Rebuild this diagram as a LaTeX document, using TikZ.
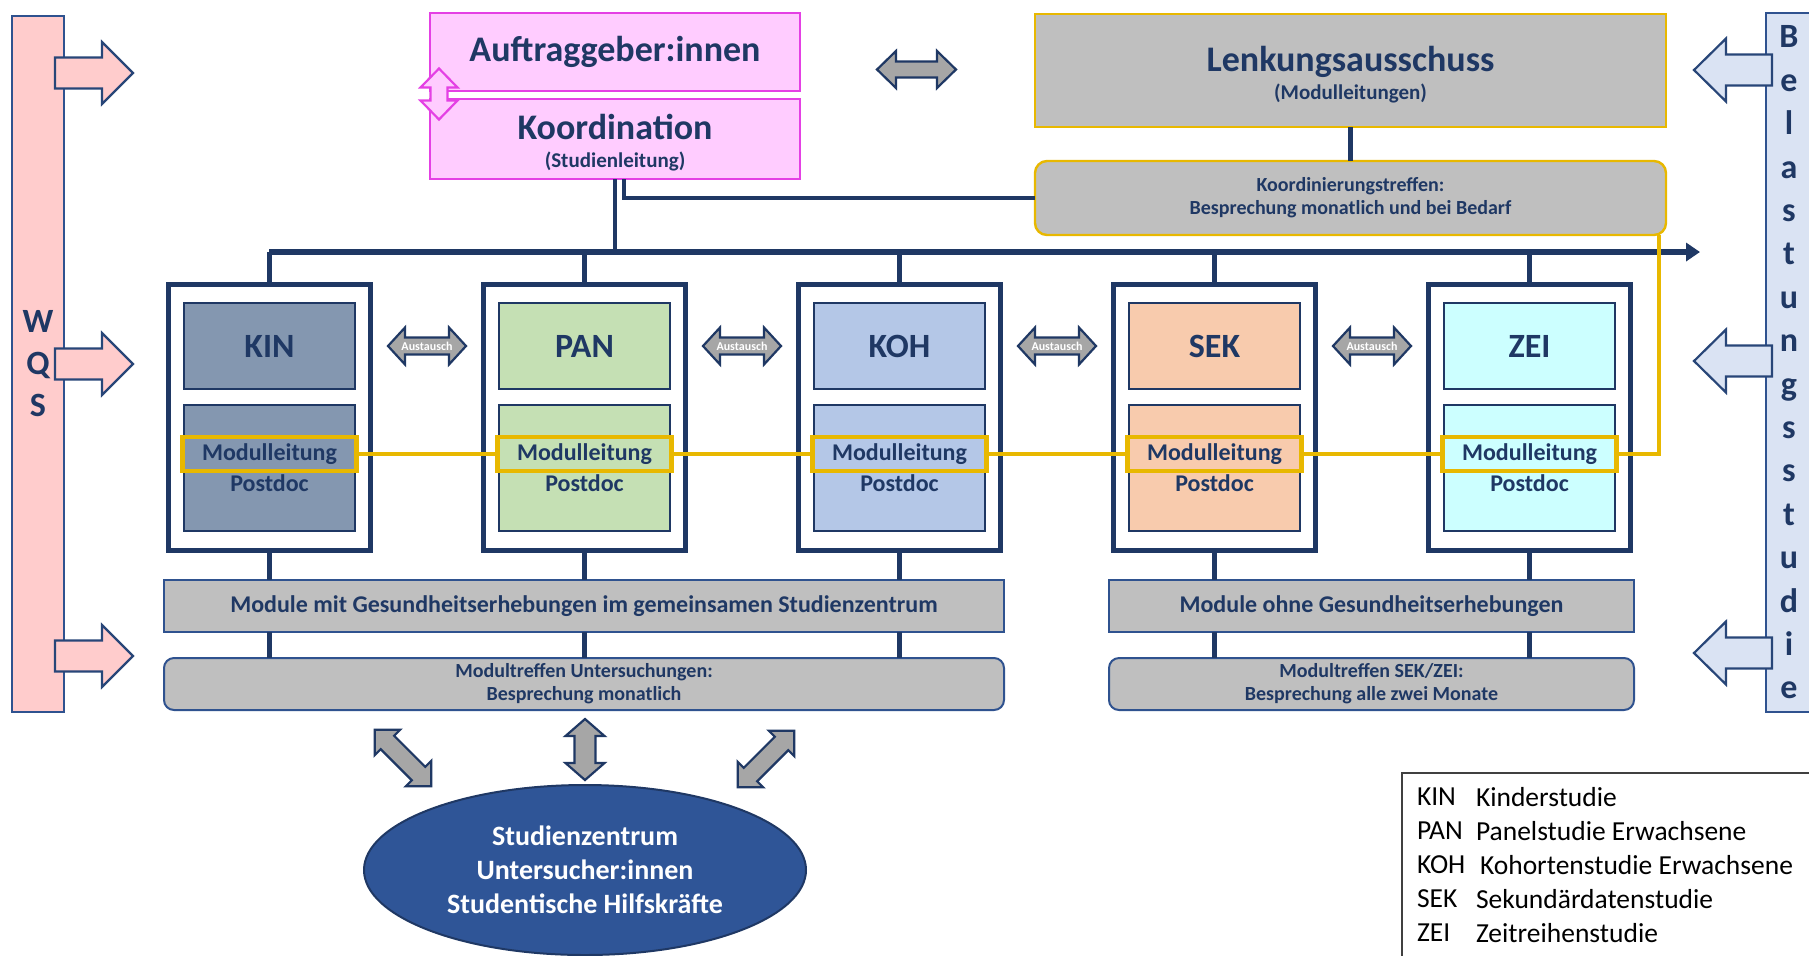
\documentclass[tikz,border=0pt]{standalone}
\usepackage{fontspec}
\setmainfont{Carlito}
\usetikzlibrary{arrows.meta,shapes.geometric}

\definecolor{navy}{RGB}{31,56,100}
\definecolor{steel}{RGB}{47,82,143}
\definecolor{arrowline}{RGB}{40,70,120}
\definecolor{gold}{RGB}{232,184,0}
\definecolor{barpink}{RGB}{255,204,204}
\definecolor{barblue}{RGB}{218,227,243}
\definecolor{lilac}{RGB}{255,204,255}
\definecolor{magentaline}{RGB}{228,64,228}
\definecolor{boxgray}{RGB}{191,191,191}
\definecolor{arrowgray}{RGB}{166,166,166}
\definecolor{kinc}{RGB}{132,151,176}
\definecolor{panc}{RGB}{197,224,180}
\definecolor{kohc}{RGB}{180,199,231}
\definecolor{sekc}{RGB}{248,203,173}
\definecolor{zeic}{RGB}{204,255,255}
\definecolor{centreblue}{RGB}{47,85,151}

\newcommand\fsz[2]{\fontsize{#1}{#2}\selectfont}

\tikzset{
  every node/.style={inner sep=0pt, outer sep=0pt},
  conn/.style={draw=navy, line width=2.4pt},
  goldline/.style={draw=gold, line width=2.4pt},
  sidebar/.style={draw=steel, line width=1pt, minimum width=26pt, align=center,
    text=navy, font=\fsz{17pt}{21pt}\bfseries},
  pinkbox/.style={draw=magentaline, fill=lilac, line width=1.2pt, minimum width=185pt},
  graybox/.style={draw=gold, fill=boxgray, line width=1.2pt, minimum width=315.5pt},
  bigtext/.style={text=navy, font=\fsz{18pt}{22pt}\bfseries},
  subtext/.style={text=navy, font=\fsz{10.5pt}{12pt}\bfseries},
  colframe/.style={draw=navy, fill=white, line width=2.5pt, minimum width=101pt, minimum height=133pt},
  topcell/.style={draw=navy, line width=1.2pt, minimum width=85.75pt, minimum height=43pt,
    text=navy, font=\fsz{17pt}{20pt}\bfseries},
  botcell/.style={draw=navy, line width=1.2pt, minimum width=85.75pt, minimum height=63pt},
  mlbox/.style={draw=gold, line width=2.4pt, minimum width=87pt, minimum height=17pt,
    text=navy, font=\fsz{12pt}{14pt}\bfseries},
  celltext/.style={text=navy, font=\fsz{12pt}{14pt}\bfseries},
  modbar/.style={draw=steel, fill=boxgray, line width=1pt, minimum height=26pt,
    text=navy, font=\fsz{12pt}{14pt}\bfseries},
  meetbox/.style={draw=steel, fill=boxgray, line width=1pt, rounded corners=5pt,
    minimum height=26pt, align=center, text=navy, font=\fsz{10pt}{11.5pt}\bfseries},
  grayarrow/.style={draw=navy, fill=arrowgray, line width=1.1pt},
  pinkarrow/.style={draw=arrowline, fill=barpink, line width=1.1pt},
  bluearrow/.style={draw=arrowline, fill=barblue, line width=1.1pt},
  lilacarrow/.style={draw=magentaline, fill=lilac, line width=1.1pt},
  austext/.style={text=white, font=\fsz{6pt}{7pt}\bfseries},
  legtext/.style={text=black, font=\fsz{13.75pt}{16pt}, anchor=west},
  % double-headed block arrow along x: half length, head length, head half width, shaft half width
  pics/dblarrow/.style n args={4}{code={
    \draw[pic actions] (-#1,0) -- (-#1+#2,-#3) -- (-#1+#2,-#4) -- (#1-#2,-#4) -- (#1-#2,-#3)
      -- (#1,0) -- (#1-#2,#3) -- (#1-#2,#4) -- (-#1+#2,#4) -- (-#1+#2,#3) -- cycle;
  }},
  % single block arrow from the origin along x: length, head length, head half width, shaft half width
  pics/onearrow/.style n args={4}{code={
    \draw[pic actions] (0,-#4) -- (#1-#2,-#4) -- (#1-#2,-#3) -- (#1,0) -- (#1-#2,#3)
      -- (#1-#2,#4) -- (0,#4) -- cycle;
  }},
}

\begin{document}
\begin{tikzpicture}[x=0.5pt,y=-0.5pt]
\useasboundingbox (0,0) rectangle (1809,955);
\fill[white] (0,0) rectangle (1809,955);
\clip (0,0) rectangle (1809,955);

% side bars
\node[sidebar, fill=barpink, minimum height=348pt] (wqs) at (38,364) {W\\Q\\S};
\node[sidebar, fill=barblue, minimum width=23pt, minimum height=349.5pt,
  font=\fsz{17pt}{21.7pt}\bfseries] (belast) at (1789,362.5)
  {B\\e\\l\\a\\s\\t\\u\\n\\g\\s\\s\\t\\u\\d\\i\\e};

\pic[pinkarrow] at (55,73) {onearrow={78}{31}{31}{15.5}};
\pic[pinkarrow] at (55,364) {onearrow={78}{31}{31}{15.5}};
\pic[pinkarrow] at (55,656) {onearrow={78}{31}{31}{15.5}};
\pic[bluearrow, rotate=180] at (1772,70) {onearrow={78}{32}{31.5}{15.5}};
\pic[bluearrow, rotate=180] at (1772,361) {onearrow={78}{32}{31.5}{15.5}};
\pic[bluearrow, rotate=180] at (1772,653) {onearrow={78}{32}{31.5}{15.5}};

% clients and coordination
\node[pinkbox, minimum height=39pt, bigtext] (auftrag) at (615,52) {Auftraggeber:innen};
\node[pinkbox, minimum height=40pt] (koord) at (615,139) {};
\node[bigtext] (koordT) at (615,127) {Koordination};
\node[subtext] (koordS) at (615,161) {(Studienleitung)};
\pic[lilacarrow, rotate=90] at (439,94) {dblarrow={25.5}{19}{18.5}{8.5}};

\pic[grayarrow] at (916.5,69.5) {dblarrow={39.5}{19}{18.5}{8}};

% steering committee
\node[graybox, minimum height=56.5pt] (lenk) at (1350.5,70.5) {};
\node[bigtext] (lenkT) at (1350.5,62) {Lenkungsausschuss};
\node[subtext] (lenkS) at (1350.5,93) {(Modulleitungen)};
\node[graybox, minimum height=37pt, rounded corners=6pt, align=center, text=navy,
  font=\fsz{10pt}{11.5pt}\bfseries] (ktreff) at (1350.5,198)
  {Koordinierungstreffen:\\Besprechung monatlich und bei Bedarf};

\coordinate (railL) at (269,252);
\coordinate (railR) at (1700,252);
\coordinate (kbranch) at (624,179);
\draw[conn] (lenk.south) -- (ktreff.north);
\draw[conn] (koord.south) -- (koord.south |- railL);
\draw[conn] (kbranch) |- (ktreff.west);
\draw[conn, line width=2.6pt, -{Triangle[length=7pt,width=9pt]}] (railL) -- (railR);

% study modules
\foreach \n/\x/\col/\lab in {kin/269.5/kinc/KIN, pan/584.5/panc/PAN, koh/899.5/kohc/KOH,
                              sek/1214.5/sekc/SEK, zei/1529.5/zeic/ZEI}{
  \draw[conn] (\x,252) -- (\x,282);
  \node[colframe] (frame\n) at (\x,417.5) {};
  \node[topcell, fill=\col] (top\n) at (\x,346) {\lab};
  \node[botcell, fill=\col] (bot\n) at (\x,468) {};
  \node[mlbox] (ml\n) at (\x,454) {Modulleitung};
  \node[celltext] (post\n) at (\x,483) {Postdoc};
}

\foreach \i/\x in {1/427, 2/742, 3/1057, 4/1372}{
  \pic[grayarrow] at (\x,346) {dblarrow={39}{17}{18.5}{8.5}};
  \node[austext] (aus\i) at (\x,346) {Austausch};
}

% module leads line up to the coordination meeting
\coordinate (goldturn) at (1659,454);
\draw[goldline] (mlkin.east) -- (mlpan.west) (mlpan.east) -- (mlkoh.west)
  (mlkoh.east) -- (mlsek.west) (mlsek.east) -- (mlzei.west);
\draw[goldline] (mlzei.east) -- (goldturn) -- (goldturn |- ktreff.south);

% lower bars
\node[modbar, minimum width=420pt] (mitbar) at (584,606)
  {Module mit Gesundheitserhebungen im gemeinsamen Studienzentrum};
\node[modbar, minimum width=262.5pt] (ohnebar) at (1371.5,606)
  {Module ohne Gesundheitserhebungen};
\node[meetbox, minimum width=420pt] (mtU) at (584,684)
  {Modultreffen Untersuchungen:\\Besprechung monatlich};
\node[meetbox, minimum width=262.5pt] (mtS) at (1371.5,684)
  {Modultreffen SEK/ZEI:\\Besprechung alle zwei Monate};

\foreach \n in {kin,pan,koh}{
  \draw[conn] (frame\n.south) -- (frame\n.south |- mitbar.north);
  \draw[conn] (frame\n.south |- mitbar.south) -- (frame\n.south |- mtU.north);
}
\foreach \n in {sek,zei}{
  \draw[conn] (frame\n.south) -- (frame\n.south |- ohnebar.north);
  \draw[conn] (frame\n.south |- ohnebar.south) -- (frame\n.south |- mtS.north);
}

% study centre
\pic[grayarrow, rotate=-45] at (403,758) {dblarrow={40}{18}{18}{9.5}};
\pic[grayarrow, rotate=90] at (585,749.5) {dblarrow={30.5}{17}{19.5}{10.5}};
\pic[grayarrow, rotate=45] at (766,759) {dblarrow={40}{18}{18}{9.5}};
\node[ellipse, draw=navy, fill=centreblue, line width=1pt, minimum width=221pt,
  minimum height=85pt, align=center, text=white, font=\fsz{14pt}{17pt}\bfseries]
  (centre) at (585,870) {Studienzentrum\\Untersucher:innen\\Studentische Hilfskräfte};

% legend
\node[draw=black!75, line width=0.9pt, minimum width=220pt, minimum height=110pt,
  anchor=north west] (legend) at (1402,773) {};
\foreach \i/\ab/\desc/\dx in {0/KIN/Kinderstudie/0, 1/PAN/Panelstudie Erwachsene/0,
    2/KOH/Kohortenstudie Erwachsene/4, 3/SEK/Sekundärdatenstudie/0, 4/ZEI/Zeitreihenstudie/0}{
  \node[legtext] (legab\i) at (1417,797+34*\i) {\ab};
  \node[legtext] (legdesc\i) at (1476+\dx,797+34*\i) {\desc};
}
\end{tikzpicture}
\end{document}
